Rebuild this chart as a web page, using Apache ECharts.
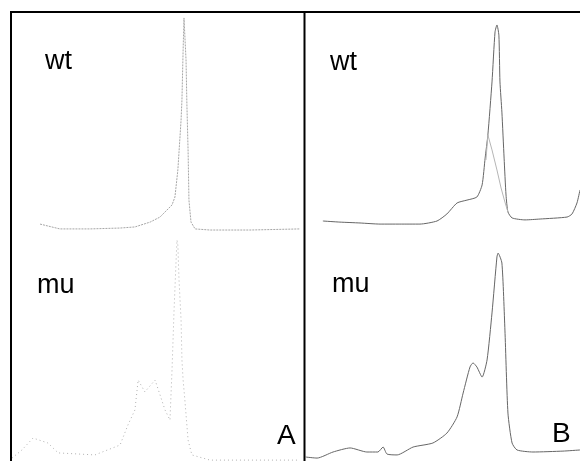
<!DOCTYPE html>
<html>
<head>
<meta charset="utf-8">
<script src="https://cdn.jsdelivr.net/npm/echarts@6/dist/echarts.min.js"></script>
<style>html,body{margin:0;padding:0;background:#fff}#c{width:580px;height:461px}</style>
</head>
<body>
<div id="c"></div>
<script>
// Panel A (left) – elution position (0-100) vs signal (0-100)
var aWt = [[9.6,3.6],[16.4,1.4],[26.7,1.4],[37.0,1.8],[42.1,2.3],[47.3,4.5],[50.7,6.8],[52.4,9.1],[54.8,12.3],[55.8,15.9],[56.8,28.2],[57.9,50.9],[58.2,60.0],[58.6,82.7],[58.9,97.3],[59.2,96.4],[59.6,78.2],[59.9,57.7],[60.3,37.3],[60.6,14.5],[61.3,4.5],[62.7,1.4],[67.8,0.9],[81.5,0.9],[98.6,1.4]];
var aMu = [[0,1.3],[3.4,4.9],[7.2,10.2],[12.3,8.0],[15.8,3.6],[28.4,2.7],[37.0,7.1],[39.7,16.0],[42.1,22.7],[43.2,36.0],[45.5,30.7],[49.0,36.0],[52.4,22.7],[54.1,18.2],[54.8,40.4],[55.5,67.1],[56.2,89.3],[56.5,98.2],[56.8,96.0],[57.2,80.4],[57.9,62.7],[58.2,44.9],[58.6,36.0],[59.2,27.1],[60.3,9.3],[61.6,2.7],[67.8,0.4],[81.5,0.4],[98.6,0.4]];
// Panel B (right)
var bWt = [[6.5,5.0],[12.7,4.5],[20.0,4.1],[27.3,3.6],[34.5,3.6],[41.8,3.6],[48.0,5.0],[51.6,8.2],[55.3,13.2],[58.9,14.5],[62.5,15.9],[64.4,21.4],[65.5,33.6],[66.5,44.1],[68.0,68.2],[69.1,90.9],[69.8,94.1],[70.5,89.5],[70.9,68.2],[71.6,54.5],[72.4,33.6],[73.1,16.8],[73.8,9.1],[75.3,6.4],[80.0,5.5],[85.5,5.9],[95.3,6.8],[97.1,8.2],[98.9,13.2],[100,19.1]];
var bWtOverlay = [[65.8,32.7],[66.5,44.1],[68.0,37.3],[69.8,28.2],[71.3,20.0],[72.7,13.6],[73.8,9.1]];
var bMu = [[0,1.8],[4.4,1.3],[10.2,4.0],[16.4,5.8],[22.5,4.0],[26.5,4.0],[28.4,6.2],[29.8,3.1],[33.5,2.7],[39.3,6.2],[46.5,8.0],[51.6,12.4],[55.3,19.6],[57.5,30.2],[60.0,41.8],[61.1,43.6],[62.5,41.8],[64.4,37.3],[66.2,44.9],[68.0,65.8],[69.8,90.7],[70.2,92.4],[71.6,88.0],[72.7,58.2],[73.8,21.3],[75.3,8.0],[77.1,4.9],[82.9,4.0],[93.8,4.4],[100,4.9]];
var rowLabels = ['wt','mu'];
var panelLabels = ['A','B'];

var chart = echarts.init(document.getElementById('c'));
var grids = [
  {left:12, top:12, width:292, height:220},
  {left:12, top:236, width:292, height:225},
  {left:305, top:12, width:275, height:220},
  {left:305, top:236, width:275, height:225}
];
var xAxes = grids.map(function(g,i){return {type:'value',gridIndex:i,min:0,max:100,show:false};});
var yAxes = grids.map(function(g,i){return {type:'value',gridIndex:i,min:0,max:100,show:false};});
function line(data, idx, color, width, type, smooth){
  return {type:'line', data:data, xAxisIndex:idx, yAxisIndex:idx, symbol:'none', smooth:smooth||false,
    lineStyle:{color:color, width:width, type:type}, silent:true, animation:false};
}
var fontFam = '"Liberation Sans", Arial, sans-serif';
function txt(s, x, y, size){
  return {type:'text', left:x, top:y, style:{text:s, font:'normal '+size+'px '+fontFam, fill:'#000'}};
}
chart.setOption({
  animation:false,
  grid:grids, xAxis:xAxes, yAxis:yAxes,
  series:[
    line(aWt,0,'#a6a6a6',1,[2,1]),
    line(aMu,1,'#b0b0b0',1,[1,3]),
    line(bWt,2,'#666',1,'solid',0.2),
    line(bWtOverlay,2,'#b5b5b5',1,'solid'),
    line(bMu,3,'#666',1,'solid',0.2)
  ],
  graphic:[
    {type:'line', shape:{x1:11,y1:12,x2:580,y2:12}, style:{stroke:'#000',lineWidth:2}},
    {type:'line', shape:{x1:11,y1:11,x2:11,y2:461}, style:{stroke:'#000',lineWidth:2}},
    {type:'line', shape:{x1:304.5,y1:11,x2:304.5,y2:461}, style:{stroke:'#000',lineWidth:2}},
    txt(rowLabels[0],45,48,27),
    txt(rowLabels[0],330,49,27),
    txt(rowLabels[1],37,272,27),
    txt(rowLabels[1],332,271,27),
    txt(panelLabels[0],277,422,28),
    txt(panelLabels[1],552,420,28)
  ]
});
</script>
</body>
</html>
